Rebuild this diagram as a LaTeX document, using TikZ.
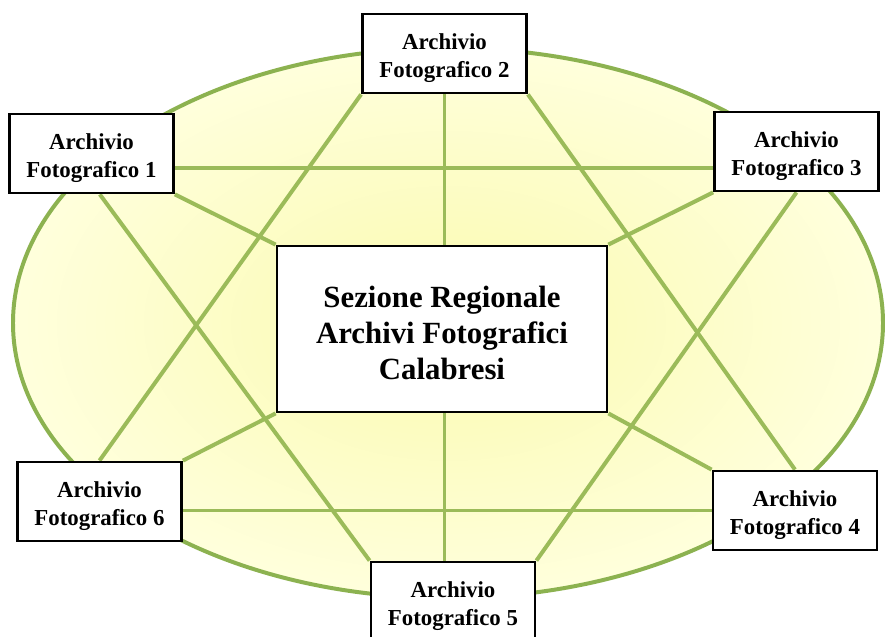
\documentclass[tikz,border=0pt]{standalone}
\usepackage{fontspec}
\setmainfont{Liberation Serif}
\usetikzlibrary{backgrounds}
\definecolor{verdeoliva}{RGB}{155,187,89}
\definecolor{bordoellisse}{RGB}{140,178,80}
\definecolor{gialloin}{RGB}{250,250,175}
\definecolor{gialloout}{RGB}{255,255,220}
\tikzset{archivio/.style={draw=black,line width=2.4pt,fill=white,inner sep=0pt,minimum width=4.92cm,minimum height=2.37cm,align=center,font=\bfseries\fontsize{19.5}{23.9}\selectfont},
  sezione/.style={archivio,minimum width=9.9cm,minimum height=4.98cm,font=\bfseries\fontsize{26.3}{31}\selectfont},
  filo/.style={draw=verdeoliva,line width=3.4pt}}
\newcommand*{\Giu}{0.44cm}

\begin{document}
\begin{tikzpicture}[x=0.03cm,y=-0.03cm]
\useasboundingbox (0,0) rectangle (885,636);

\node[sezione] (sez) at (442,329) {\rule{0pt}{25pt}Sezione Regionale\\Archivi Fotografici\\Calabresi};

\foreach \n/\x/\y in {1/91.5/153.5,2/444.5/53.5,3/796.5/151.5,4/795/510.5,5/453/601.5,6/99.5/501.5} {%
    \node[archivio] (a\n) at (\x,\y) {\rule{0pt}{22pt}Archivio\\Fotografico \n};
}

\begin{pgfonlayer}{background}
\shade[inner color=gialloin,outer color=gialloout] (448,323) ellipse [x radius=435,y radius=275];
\draw[draw=bordoellisse,line width=3.4pt] (448,323) ellipse [x radius=435,y radius=275];% bordo
% stella
\draw[filo] ([xshift=0.25cm]a1.south) -- (a5.north west);
\draw[filo] (a3.south) -- (a5.north east);
\draw[filo] ([yshift=-\Giu]a1.east) -- ([yshift=-\Giu]a1.east -| a3.west);
\draw[filo] (a2.south west) -- (a6.north);
\draw[filo] (a2.south east) -- (a4.north);
\draw[filo] (a4.west) -- (a4.west -| a6.east);
\draw[filo] (a2.south) -- (a2.south |- a5.north);
% raggi verso la sezione
\draw[filo] (a1.south east) -- (sez.north west);
\draw[filo] (a3.south west) -- (sez.north east);
\draw[filo] (a6.north east) -- (sez.south west);
\draw[filo] (a4.north west) -- (sez.south east);
\end{pgfonlayer}

\end{tikzpicture}
\end{document}
